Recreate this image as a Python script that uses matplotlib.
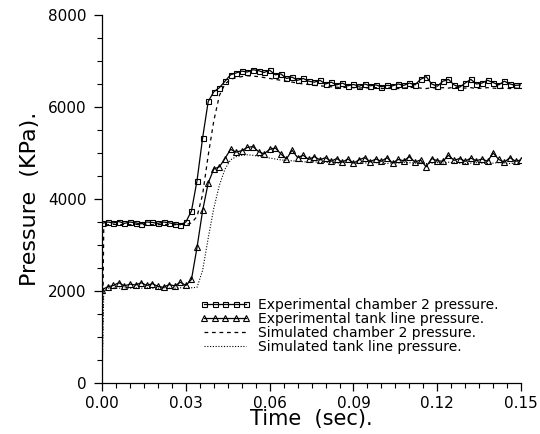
import numpy as np
import matplotlib
matplotlib.use("Agg")
import matplotlib.pyplot as plt
from matplotlib.ticker import MultipleLocator, FormatStrFormatter

# sampling of the experimental records (s)
time_exp = np.arange(76) * 0.002

# experimental chamber 2 pressure (kPa)
chamber_exp = [3470, 3500, 3480, 3510, 3470, 3500, 3480, 3460, 3500, 3490,
               3470, 3500, 3480, 3460, 3440, 3500, 3740, 4400, 5330, 6120,
               6330, 6420, 6560, 6700, 6740, 6780, 6760, 6810, 6790, 6750,
               6800, 6700, 6720, 6620, 6650, 6580, 6620, 6560, 6540, 6580,
               6500, 6540, 6480, 6520, 6460, 6490, 6450, 6500, 6460, 6480,
               6440, 6470, 6460, 6500, 6470, 6520, 6480, 6600, 6660, 6500,
               6450, 6560, 6600, 6480, 6430, 6520, 6600, 6500, 6520, 6580,
               6530, 6480, 6560, 6500, 6470, 6480]

# experimental tank line pressure (kPa)
tank_exp = [2030, 2090, 2120, 2180, 2110, 2150, 2130, 2180, 2120, 2160,
            2100, 2080, 2140, 2110, 2190, 2120, 2250, 2950, 3750, 4350,
            4650, 4700, 4880, 5080, 5020, 5050, 5120, 5140, 5030, 4980,
            5080, 5110, 4980, 4870, 5060, 4900, 4950, 4860, 4920, 4850,
            4900, 4820, 4880, 4800, 4870, 4780, 4850, 4900, 4810, 4870,
            4820, 4900, 4780, 4860, 4830, 4920, 4800, 4850, 4700, 4880,
            4830, 4820, 4950, 4840, 4880, 4820, 4890, 4830, 4870, 4820,
            5000, 4860, 4800, 4900, 4820, 4850]

# simulation output (starts from zero at t = 0)
time_sim = np.concatenate([[0.0, 0.0006], time_exp[1:]])

chamber_sim = [0, 3350,
               3440, 3450, 3440, 3450, 3440, 3450, 3440, 3450, 3440, 3440,
               3450, 3440, 3440, 3450, 3440,
               3480, 3620, 4100, 4950, 5700, 6250, 6500, 6600, 6640, 6660,
               6680, 6670, 6660, 6640, 6620, 6600, 6580, 6560, 6540, 6520,
               6500, 6490, 6470, 6460, 6450,
               6440, 6430, 6420, 6430, 6420, 6410, 6420, 6410, 6420, 6400,
               6410, 6420, 6400, 6410, 6420, 6430, 6410, 6400, 6420, 6410,
               6420, 6410, 6430, 6420, 6410, 6420, 6400, 6410, 6420, 6410,
               6400, 6410, 6400, 6410, 6400]

tank_sim = [0, 2000,
            2060, 2070, 2060, 2070, 2060, 2070, 2060, 2070, 2060, 2060,
            2070, 2060, 2060, 2070, 2060, 2070,
            2080, 2450, 3150, 3800, 4300, 4650, 4850, 4920, 4950,
            4960, 4950, 4930, 4910, 4890, 4870, 4850, 4840, 4830, 4820,
            4810, 4800, 4810, 4790, 4800, 4790, 4780, 4790, 4800, 4780,
            4790, 4780, 4800, 4790, 4780, 4770, 4790, 4780, 4800, 4790,
            4780, 4790, 4770, 4780, 4790, 4780, 4800, 4790, 4780, 4770,
            4780, 4790, 4780, 4770, 4780, 4790, 4780, 4770, 4780, 4770]

labels = ["Experimental chamber 2 pressure.",
          "Experimental tank line pressure.",
          "Simulated chamber 2 pressure.",
          "Simulated tank line pressure."]

plt.rcParams['font.family'] = 'DejaVu Sans'

fig = plt.figure(figsize=(5.4, 4.34), dpi=100)
ax = fig.add_axes([0.189, 0.1175, 0.776, 0.848])

ax.plot(time_exp, chamber_exp, color='black', lw=0.9, marker='s', ms=3.6,
        mfc='none', mew=0.8, label=labels[0])
ax.plot(time_exp, tank_exp, color='black', lw=0.9, marker='^', ms=4.2,
        mfc='none', mew=0.8, label=labels[1])
ax.plot(time_sim, chamber_sim, color='black', lw=0.9, ls=(0, (3, 3)),
        label=labels[2])
ax.plot(time_sim, tank_sim, color='black', lw=0.8, ls=(0, (1, 1.5)),
        label=labels[3])

ax.set_xlim(0, 0.15)
ax.set_ylim(0, 8000)
ax.xaxis.set_major_locator(MultipleLocator(0.03))
ax.xaxis.set_minor_locator(MultipleLocator(0.005))
ax.xaxis.set_major_formatter(FormatStrFormatter('%.2f'))
ax.yaxis.set_major_locator(MultipleLocator(2000))
ax.yaxis.set_minor_locator(MultipleLocator(500))

for s in ['top', 'right']:
    ax.spines[s].set_visible(False)
for s in ['left', 'bottom']:
    ax.spines[s].set_linewidth(0.9)

ax.tick_params(which='major', length=6, width=0.9, labelsize=11)
ax.tick_params(axis='y', which='major', pad=5)
ax.tick_params(axis='x', which='major', pad=3)
ax.tick_params(which='minor', length=3.5, width=0.8)

ax.set_xlabel('Time  (sec).', fontsize=15, labelpad=-1)
ax.set_ylabel('Pressure  (KPa).', fontsize=16, labelpad=6)

leg = ax.legend(loc='upper left', bbox_to_anchor=(0.234, 0.232), frameon=False,
                fontsize=10, numpoints=5, handlelength=3.6, handletextpad=0.55,
                labelspacing=0.0, borderpad=0, borderaxespad=0)

fig.savefig('out.png', dpi=100)
